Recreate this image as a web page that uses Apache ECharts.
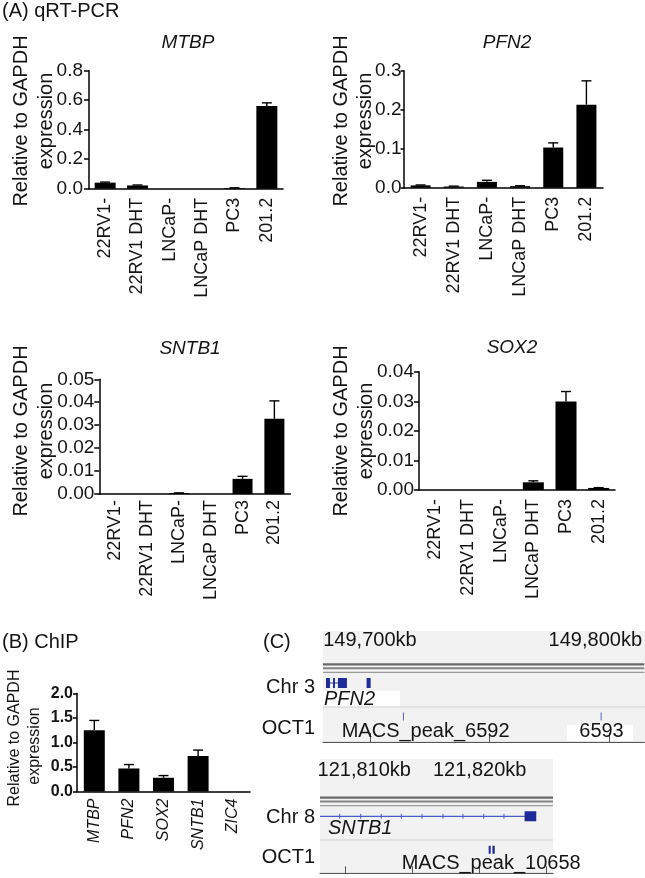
<!DOCTYPE html>
<html>
<head>
<meta charset="utf-8">
<script src="https://cdn.jsdelivr.net/npm/echarts@6/dist/echarts.min.js"></script>
<style>
html,body{margin:0;padding:0;background:#fff;}
#c{width:645px;height:878px;}
</style>
</head>
<body>
<div id="c"></div>
<script>
const FONT = '"Liberation Sans", Arial, Helvetica, sans-serif';
const INK = '#141414';

// ---------- Panel A: qRT-PCR ----------
const qpcrCategories = ['22RV1-', '22RV1 DHT', 'LNCaP-', 'LNCaP DHT', 'PC3', '201.2'];
const mtbpMean  = [0.041, 0.022, 0, 0, 0.005, 0.56];
const mtbpSem   = [0.004, 0.003, 0, 0, 0.001, 0.022];
const mtbpTicks = [0, 0.2, 0.4, 0.6, 0.8];
const pfn2Mean  = [0.006, 0.003, 0.015, 0.004, 0.103, 0.213];
const pfn2Sem   = [0.001, 0.001, 0.004, 0.001, 0.012, 0.061];
const pfn2Ticks = [0, 0.1, 0.2, 0.3];
const sntb1Mean  = [0, 0, 0.0004, 0, 0.0066, 0.0328];
const sntb1Sem   = [0, 0, 0.0001, 0, 0.0011, 0.0078];
const sntb1Ticks = [0, 0.01, 0.02, 0.03, 0.04, 0.05];
const sox2Mean  = [0, 0, 0, 0.0026, 0.0299, 0.0007];
const sox2Sem   = [0, 0, 0, 0.0005, 0.0034, 0.0001];
const sox2Ticks = [0, 0.01, 0.02, 0.03, 0.04];

// ---------- Panel B: ChIP ----------
const chipCategories = ['MTBP', 'PFN2', 'SOX2', 'SNTB1', 'ZIC4'];
const chipMean  = [1.25, 0.47, 0.28, 0.725, 0];
const chipSem   = [0.2, 0.08, 0.045, 0.12, 0];
const chipTicks = [0, 0.5, 1.0, 1.5, 2.0];

// ---------- Panel C: genome browser (kb) ----------
const chr3Range   = [149680.4, 149814.6];
const chr3TickKb  = [149700, 149750, 149800];
const chr3LabelKb = [149700, 149800];
const pfn2Exons   = [[149681.65, 149683.3], [149684.6, 149685.4], [149686.65, 149690.4], [149698.6, 149700.3]];
const pfn2Introns = [[149681.65, 149690.4]];
const chr3Peaks   = [[149713.8, 149714.2], [149796.4, 149796.8]];

const chr8Range   = [121808.08, 121825.47];
const chr8TickKb  = [121810, 121815, 121820, 121825];
const chr8LabelKb = [121810, 121820];
const sntb1Exons   = [[121823.35, 121824.22]];
const sntb1Introns = [[121808.08, 121823.83]];
const sntb1Strand  = [121809.55, 121811.12, 121812.65, 121814.15, 121815.69, 121817.26, 121818.75, 121820.3, 121821.81];
const chr8Peaks    = [[121820.67, 121820.82], [121820.95, 121821.12]];

// ---------- helpers ----------
const grids = [], xAxes = [], yAxes = [], series = [];

function renderErr(params, api) {
  const i = api.value(0), m = api.value(1), e = api.value(2);
  if (!(e > 0)) return { type: 'group', children: [] };
  const a = api.coord([i, m]), b = api.coord([i, m + e]);
  return { type: 'group', children: [
    { type: 'line', shape: { x1: a[0], y1: a[1], x2: b[0], y2: b[1] }, style: { stroke: '#000', lineWidth: 1.4 } },
    { type: 'line', shape: { x1: b[0] - 5, y1: b[1], x2: b[0] + 5, y2: b[1] }, style: { stroke: '#000', lineWidth: 1.4 } }
  ]};
}

function addBarPanel(p) {
  const g = grids.length;
  grids.push(Object.assign({ containLabel: false }, p.grid));
  xAxes.push({
    gridIndex: g, type: 'category', data: p.cats,
    axisLine: { show: true, lineStyle: { color: '#000', width: 1.5 } },
    axisTick: { show: false },
    axisLabel: Object.assign({ interval: 0, rotate: 90, color: INK, fontFamily: FONT }, p.xLabel)
  });
  yAxes.push({
    gridIndex: g, type: 'value',
    min: p.ticks[0], max: p.ticks[p.ticks.length - 1], interval: p.ticks[1] - p.ticks[0],
    axisLine: { show: true, lineStyle: { color: '#000', width: 1.5 } },
    axisTick: { show: true, length: p.tickLen || 5, lineStyle: { color: '#000', width: 1.5 } },
    splitLine: { show: false },
    axisLabel: Object.assign({ color: INK, fontFamily: FONT, formatter: v => v.toFixed(p.dec) }, p.yLabel)
  });
  series.push({
    type: 'bar', xAxisIndex: g, yAxisIndex: g, data: p.mean, barWidth: p.barWidth,
    itemStyle: { color: '#000' }, silent: true
  });
  series.push({
    type: 'custom', xAxisIndex: g, yAxisIndex: g, z: 3, silent: true,
    encode: { x: 0, y: 1 },
    data: p.mean.map((m, i) => [i, m, p.sem[i]]),
    renderItem: renderErr
  });
}

const xLabA = { fontSize: 18, margin: 9 };
const yLabA = { fontSize: 19, margin: 5 };
addBarPanel({ cats: qpcrCategories, mean: mtbpMean, sem: mtbpSem, ticks: mtbpTicks, dec: 1,
  grid: { left: 89, top: 70.7, width: 194, height: 118 }, xLabel: xLabA, yLabel: { fontSize: 19, margin: 6 }, barWidth: 21 });
addBarPanel({ cats: qpcrCategories, mean: pfn2Mean, sem: pfn2Sem, ticks: pfn2Ticks, dec: 1,
  grid: { left: 404, top: 70.7, width: 199, height: 117 }, xLabel: xLabA, yLabel: { fontSize: 19, margin: 2.5 }, barWidth: 20, tickLen: 3.5 });
addBarPanel({ cats: qpcrCategories, mean: sntb1Mean, sem: sntb1Sem, ticks: sntb1Ticks, dec: 2,
  grid: { left: 99.3, top: 379.3, width: 191, height: 114.7 }, xLabel: { fontSize: 18, margin: 6 }, yLabel: yLabA, barWidth: 20 });
addBarPanel({ cats: qpcrCategories, mean: sox2Mean, sem: sox2Sem, ticks: sox2Ticks, dec: 2,
  grid: { left: 419, top: 371.7, width: 196, height: 118.3 }, xLabel: xLabA, yLabel: yLabA, barWidth: 21 });
addBarPanel({ cats: chipCategories, mean: chipMean, sem: chipSem, ticks: chipTicks, dec: 1,
  grid: { left: 77, top: 693.5, width: 173, height: 98 },
  xLabel: { fontSize: 16, margin: 7, fontStyle: 'italic' },
  yLabel: { fontSize: 16, margin: 4, fontWeight: 'bold' }, barWidth: 21, tickLen: 4 });

// ---------- genome browser ----------
const GENE_DY = 28, GENE_H = 10, PEAK_DY = 61.5, PEAK_H = 8;
const seqLines = [ { dy: 9.3, w: 2.3, c: '#6a6a6a' }, { dy: 13.3, w: 2, c: '#858585' }, { dy: 17.3, w: 1.2, c: '#9a9a9a' } ];

function fmtKb(v) { return String(Math.round(v)).replace(/\B(?=(\d{3})+(?!\d))/g, ',') + 'kb'; }

function rectRender(dy, h, color, minW) {
  return function (params, api) {
    const cs = params.coordSys;
    const x1 = api.coord([api.value(0), 0])[0], x2 = api.coord([api.value(1), 0])[0];
    const w = Math.max(minW, x2 - x1), cx = (x1 + x2) / 2;
    return { type: 'rect', shape: { x: cx - w / 2, y: cs.y + dy - h / 2, width: w, height: h }, style: { fill: color } };
  };
}
function lineRender(dy, color, lw) {
  return function (params, api) {
    const cs = params.coordSys;
    const x1 = api.coord([api.value(0), 0])[0], x2 = api.coord([api.value(1), 0])[0];
    return { type: 'line', shape: { x1: x1, y1: cs.y + dy, x2: x2, y2: cs.y + dy }, style: { stroke: color, lineWidth: lw } };
  };
}
function seqRender(params, api) {
  const cs = params.coordSys;
  const x1 = api.coord([api.value(0), 0])[0], x2 = api.coord([api.value(1), 0])[0];
  return { type: 'group', children: seqLines.map(s => ({
    type: 'line', shape: { x1: x1, y1: cs.y + s.dy, x2: x2, y2: cs.y + s.dy }, style: { stroke: s.c, lineWidth: s.w } })) };
}
function strandRender(params, api) {
  const cs = params.coordSys;
  const x = api.coord([api.value(0), 0])[0], y = cs.y + GENE_DY;
  return { type: 'line', shape: { x1: x, y1: y - 2.5, x2: x, y2: y + 2.5 }, style: { stroke: '#4d5cc4', lineWidth: 1 } };
}

function addBrowser(b) {
  const g = grids.length;
  grids.push(b.grid);
  xAxes.push({
    gridIndex: g, type: 'value', position: 'top', min: b.range[0], max: b.range[1],
    axisLine: { show: true, lineStyle: { color: '#555', width: 1.2 } },
    axisTick: { show: true, customValues: b.ticks, length: b.tickLen, lineStyle: { color: '#555', width: 1 } },
    splitLine: { show: false },
    axisLabel: {
      customValues: b.labels, margin: b.labelMargin, color: INK, fontFamily: FONT, fontSize: 20,
      formatter: v => { const k = b.shift[Math.round(v)]; return k ? '{' + k + '|' + fmtKb(v) + '}' : fmtKb(v); },
      rich: {
        l: { fontSize: 20, fontFamily: FONT, color: INK, padding: [0, 28, 0, 0] },
        r: { fontSize: 20, fontFamily: FONT, color: INK, padding: [0, 0, 0, 37] }
      }
    }
  });
  yAxes.push({ gridIndex: g, type: 'value', min: 0, max: 1, show: false });
  const common = { type: 'custom', xAxisIndex: g, yAxisIndex: g, silent: true, clip: true };
  series.push(Object.assign({}, common, { data: [b.range], renderItem: seqRender }));
  series.push(Object.assign({}, common, { data: b.introns, renderItem: lineRender(GENE_DY, '#4d5cc4', 1.2) }));
  if (b.strand) series.push(Object.assign({}, common, { data: b.strand.map(v => [v]), renderItem: strandRender }));
  series.push(Object.assign({}, common, { data: b.exons, renderItem: rectRender(GENE_DY, GENE_H, '#1d2b98', 1.5) }));
  series.push(Object.assign({}, common, { data: b.peaks, renderItem: rectRender(PEAK_DY, PEAK_H, b.peakColor, 1) }));
}

addBrowser({ grid: { left: 323, top: 655, width: 322, height: 87 }, range: chr3Range, ticks: chr3TickKb, labels: chr3LabelKb,
  tickLen: 9, labelMargin: 5, shift: { 149800: 'l' }, exons: pfn2Exons, introns: pfn2Introns, peaks: chr3Peaks, peakColor: '#5563c2' });
addBrowser({ grid: { left: 320, top: 788.3, width: 233, height: 85 }, range: chr8Range, ticks: chr8TickKb, labels: chr8LabelKb,
  tickLen: 7, labelMargin: 8, shift: { 121810: 'r' }, exons: sntb1Exons, introns: sntb1Introns, strand: sntb1Strand,
  peaks: chr8Peaks, peakColor: '#1d2b98' });

// ---------- graphic (backgrounds & texts) ----------
function T(text, x, y, o) {
  o = o || {};
  return { type: 'text', x: x, y: y, rotation: o.rot || 0, z: 100, silent: true,
    style: { text: text, fill: INK, fontFamily: FONT, fontSize: o.size || 20,
      fontStyle: o.italic ? 'italic' : 'normal', fontWeight: o.bold ? 'bold' : 'normal',
      align: o.align || 'center', verticalAlign: 'middle' } };
}
function R(x, y, w, h, fill) { return { type: 'rect', z: -10, silent: true, shape: { x: x, y: y, width: w, height: h }, style: { fill: fill } }; }
function L(x1, y1, x2, y2, c) { return { type: 'line', z: -5, silent: true, shape: { x1: x1, y1: y1, x2: x2, y2: y2 }, style: { stroke: c, lineWidth: 1 } }; }

const V = Math.PI / 2;
const elements = [
  // browser backgrounds
  R(323, 631, 322, 111, '#f2f2f2'),
  R(323, 691, 77, 16, '#ffffff'),
  R(567, 725, 66, 16, '#ffffff'),
  L(323, 707, 645, 707, '#cfcfcf'),
  L(323, 742, 645, 742, '#d6d6d6'),
  R(320, 759, 233, 114, '#f2f2f2'),
  L(320, 840, 553, 840, '#cfcfcf'),
  L(320, 873, 553, 873, '#d6d6d6'),
  // panel headers
  T('(A) qRT-PCR', 2, 11, { align: 'left' }),
  T('(B) ChIP', 2, 642, { align: 'left' }),
  T('(C)', 263, 642, { align: 'left' }),
  // gene titles
  T('MTBP', 188, 43, { italic: true, size: 19 }),
  T('PFN2', 507, 43, { italic: true, size: 19 }),
  T('SNTB1', 190, 349, { italic: true, size: 19 }),
  T('SOX2', 512, 348, { italic: true, size: 19 }),
  // y axis names
  T('Relative to GAPDH', 21.7, 121, { rot: V }), T('expression', 46.7, 121, { rot: V }),
  T('Relative to GAPDH', 341.7, 121, { rot: V }), T('expression', 365.5, 121, { rot: V }),
  T('Relative to GAPDH', 21.7, 431, { rot: V }), T('expression', 46.7, 431, { rot: V }),
  T('Relative to GAPDH', 341.7, 431, { rot: V }), T('expression', 366.7, 431, { rot: V }),
  T('Relative to GAPDH', 15, 738, { rot: V, size: 16 }), T('expression', 35, 746, { rot: V, size: 16 }),
  // browser track names
  T('Chr 3', 315, 687, { align: 'right' }),
  T('OCT1', 315, 728, { align: 'right' }),
  T('Chr 8', 315, 817, { align: 'right' }),
  T('OCT1', 315, 857, { align: 'right' }),
  // feature labels
  T('PFN2', 349.5, 699, { italic: true }),
  T('MACS_peak_6592', 341.7, 731, { align: 'left' }),
  T('6593', 601.5, 731),
  T('SNTB1', 328, 828, { italic: true, align: 'left' }),
  T('MACS_peak_10658', 401.7, 863, { align: 'left' })
];

const chart = echarts.init(document.getElementById('c'), null, { renderer: 'canvas' });
chart.setOption({
  animation: false,
  backgroundColor: '#ffffff',
  textStyle: { fontFamily: FONT },
  grid: grids, xAxis: xAxes, yAxis: yAxes, series: series,
  graphic: { elements: elements }
});
</script>
</body>
</html>
